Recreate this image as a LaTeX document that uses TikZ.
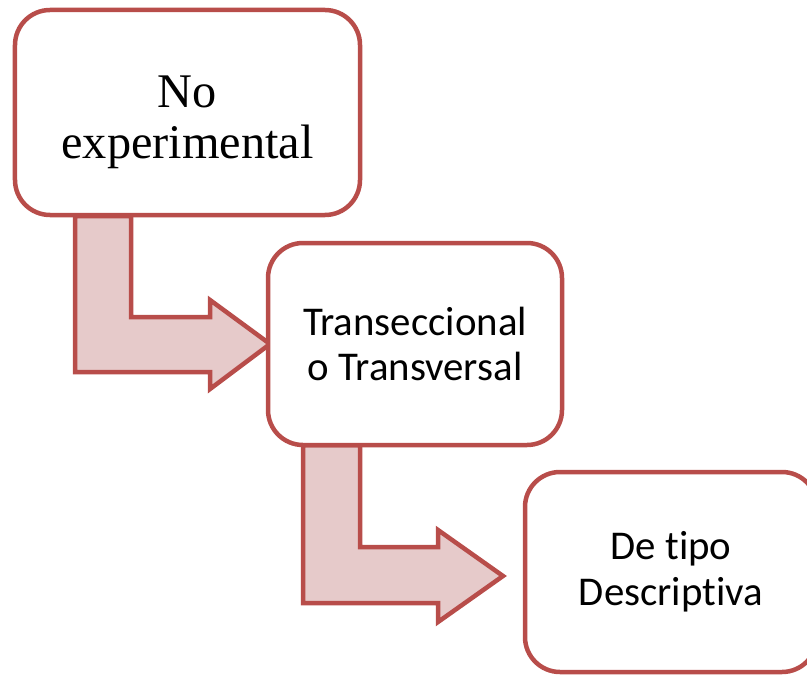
\documentclass[tikz,border=0pt]{standalone}
\usepackage{fontspec}
\setmainfont{Liberation Serif}
\newfontfamily\calib[Ligatures=NoCommon]{Carlito}
\usetikzlibrary{calc}
\definecolor{edgered}{HTML}{B84D4A}
\definecolor{arrowfill}{HTML}{E6CACA}
\begin{document}
\begin{tikzpicture}[x=1bp,y=-1bp,
  box/.style={draw=edgered, line width=4.5bp, fill=white, rounded corners=35bp,
    rectangle, inner sep=0pt, align=center},
  bentarrow/.style={draw=edgered, line width=4.5bp, fill=arrowfill, line join=miter}]
\useasboundingbox (0,0) rectangle (807,675);
\clip (0,0) rectangle (807,675);
\path (187.5,112.5) coordinate (ca);
\path (415,344) coordinate (cb);
\path (671,572) coordinate (cc);
% arrows
\coordinate (tip1) at (270,344);
\coordinate (tip2) at (503,576);
\draw[bentarrow] (75,216) -- ++(56,0) -- ++(0,101) -- ++(79,0) -- ++(0,-17)
   -- (tip1) -- ++(-60,45) -- ++(0,-17) -- ++(-135,0) -- cycle;
\draw[bentarrow] (303,445) -- ++(57,0) -- ++(0,102) -- ++(78,0) -- ++(0,-17)
   -- (tip2) -- ++(-65,46) -- ++(0,-19) -- ++(-135,0) -- cycle;
% boxes
\node[box, minimum width=345bp, minimum height=205bp,
  font=\fontsize{48.5}{51}\selectfont] (a) at (ca) {\rule{0pt}{1.05em}No\\experimental};
\node[box, minimum width=294bp, minimum height=202bp,
  font=\calib\fontsize{41}{46}\selectfont] (b) at (cb) {Transeccional\\o Transversal};
\node[box, minimum width=292bp, minimum height=200bp,
  font=\calib\fontsize{41}{46}\selectfont] (c) at (cc) {De tipo\\Descriptiva};
\end{tikzpicture}
\end{document}
